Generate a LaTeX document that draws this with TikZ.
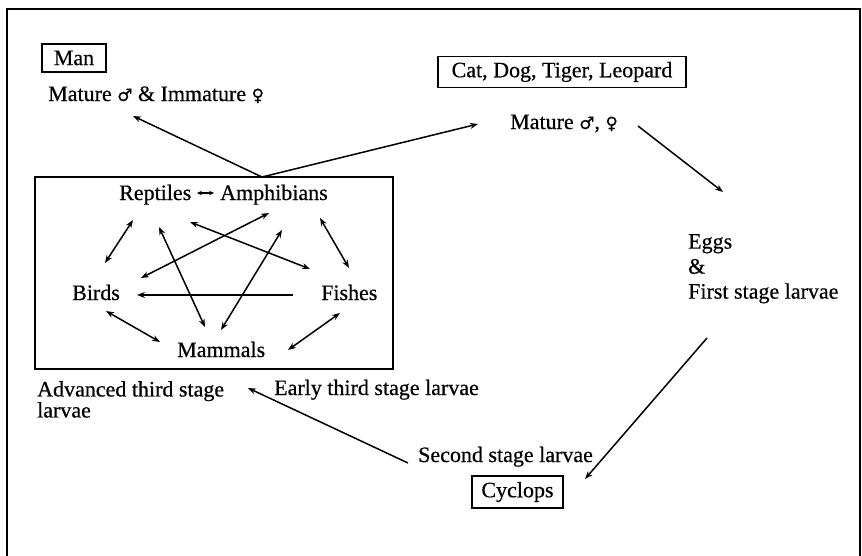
\documentclass[tikz,border=0pt]{standalone}
\usepackage{fontspec}
\setmainfont[FakeBold=0.5]{Liberation Serif}
\newfontfamily\symfont[FakeBold=0.5]{DejaVu Sans}
\usetikzlibrary{arrows.meta,calc}
\newcommand{\msym}{{\symfont\fontsize{17}{17}\selectfont ♂}}
\newcommand{\fsym}{{\symfont\fontsize{17}{17}\selectfont ♀}}
\begin{document}
\begin{tikzpicture}[x=1pt,y=-1pt,
  lbl/.style={font=\fontsize{22}{25}\selectfont, inner sep=0pt},
  hostbox/.style={draw, line width=1.3pt, inner sep=0pt, font=\fontsize{22}{25}\selectfont},
  arr/.style={line width=1.5pt, -{Stealth[length=8pt,width=6pt]}},
  darr/.style={line width=1.5pt, {Stealth[length=8pt,width=6pt]}-{Stealth[length=8pt,width=6pt]}},
  sarr/.style={line width=1.1pt, {Stealth[length=5pt,width=4.5pt]}-{Stealth[length=5pt,width=4.5pt]}},
]
\useasboundingbox (0,0) rectangle (862,555);
% outer frame
\draw[line width=1.6pt] (7,560) -- (7,9) -- (860,9) -- (860,560);

% definitive hosts
\node[hostbox, minimum width=64pt, minimum height=28pt] (man) at (74,58) {Man};
\node[lbl, anchor=base west] (manst) at (48,101) {Mature \msym{} \& Immature \fsym};
\node[hostbox, minimum width=248pt, minimum height=31pt] (cat) at (562,72) {Cat, Dog, Tiger, Leopard};
\node[lbl, anchor=base west] (catst) at (510,129) {Mature \msym, \fsym};
\node[lbl, anchor=north west, align=left] (eggs) at (688,234) {Eggs\\\&\\First stage larvae};

% paratenic hosts box
\node[draw, line width=1.6pt, minimum width=358pt, minimum height=192pt, inner sep=0pt] (para) at (214,273) {};
\node[lbl, anchor=base west] (rept) at (119,200) {Reptiles};
\node[lbl, anchor=base west] (amph) at (220,200) {Amphibians};
\node[lbl, anchor=base west] (birds) at (72,300) {Birds};
\node[lbl, anchor=base west] (fish) at (321,300) {Fishes};
\node[lbl, anchor=base west] (mamm) at (177,357) {Mammals};

\node[lbl, anchor=north west, align=left, font=\fontsize{22}{21}\selectfont] (adv) at (37,381) {Advanced third stage\\larvae};
\node[lbl, anchor=base west] (early) at (274,395) {Early third stage larvae};
\node[lbl, anchor=base west] (second) at (418,462) {Second stage larvae};
\node[hostbox, minimum width=91pt, minimum height=32pt] (cyc) at (517.5,492) {Cyclops};

% connector end points
\coordinate (ptop) at (262,177);
\coordinate (manend) at (133,116);
\coordinate (catend) at (478,124);
\coordinate (cs1) at (638,126);
\coordinate (eg1) at (723,192);
\coordinate (eg2) at (707,338);
\coordinate (cy1) at (585,479);
\coordinate (sl1) at (408,463);
\coordinate (ad1) at (248,388);
\coordinate (ra) at (197,193);
\coordinate (ar) at (214,193);

\coordinate (rb1) at (133,220); \coordinate (rb2) at (105,263);
\coordinate (rm1) at (159,227); \coordinate (rm2) at (205,327);
\coordinate (rf1) at (190,222); \coordinate (rf2) at (310,269);
\coordinate (ab1) at (269,213); \coordinate (ab2) at (141,278);
\coordinate (am1) at (282,230); \coordinate (am2) at (221,330);
\coordinate (af1) at (320,218); \coordinate (af2) at (349,268);
\coordinate (bf1) at (137,295); \coordinate (bf2) at (293,295);
\coordinate (bm1) at (106,311); \coordinate (bm2) at (160,342);
\coordinate (fm1) at (340,313); \coordinate (fm2) at (288,350);

% life-cycle connectors
\draw[arr] (ptop) -- (manend);
\draw[arr] (ptop) -- (catend);
\draw[arr] (cs1) -- (eg1);
\draw[arr] (eg2) -- (cy1);
\draw[arr] (sl1) -- (ad1);

% connectors among paratenic hosts
\draw[sarr] (ra) -- (ar);
\draw[darr] (rb1) -- (rb2);
\draw[darr] (rm1) -- (rm2);
\draw[darr] (rf1) -- (rf2);
\draw[darr] (ab1) -- (ab2);
\draw[darr] (am1) -- (am2);
\draw[darr] (af1) -- (af2);
\draw[arr] (bf2) -- (bf1);
\draw[darr] (bm1) -- (bm2);
\draw[darr] (fm1) -- (fm2);
\end{tikzpicture}
\end{document}
